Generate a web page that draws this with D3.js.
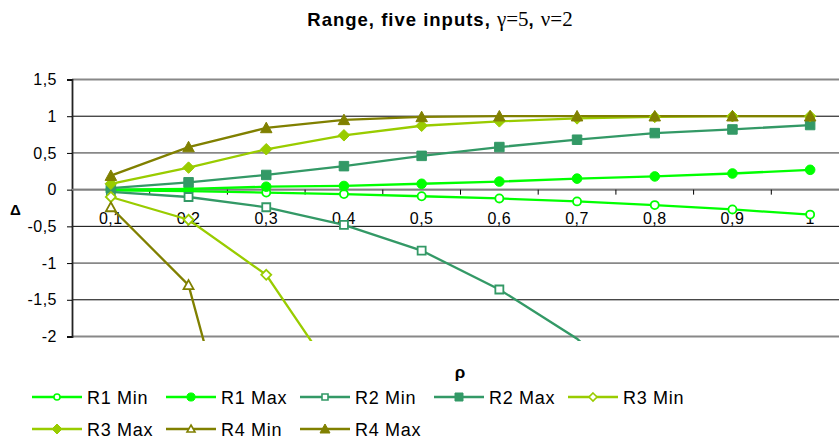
<!DOCTYPE html>
<html>
<head>
<meta charset="utf-8">
<script src="https://cdn.jsdelivr.net/npm/d3@7"></script>
<style>
  body { margin: 0; background: #fff; }
  svg { display: block; font-family: "Liberation Sans", Arial, sans-serif; }
</style>
</head>
<body>
<div class="chart"></div>
<script>
// rho categories
var rhoLabels = ["0,1", "0,2", "0,3", "0,4", "0,5", "0,6", "0,7", "0,8", "0,9", "1"];
var yTicks = [1.5, 1, 0.5, 0, -0.5, -1, -1.5, -2];

// series values (null = not visible / below the axis)
var r1Min = [-0.01, -0.02, -0.04, -0.06, -0.09, -0.12, -0.16, -0.21, -0.27, -0.34];
var r1Max = [0.0, 0.01, 0.04, 0.05, 0.08, 0.11, 0.15, 0.18, 0.22, 0.27];
var r2Min = [-0.03, -0.10, -0.24, -0.48, -0.83, -1.36, -2.03, -3.0, null, null];
var r2Max = [0.02, 0.10, 0.20, 0.32, 0.46, 0.58, 0.68, 0.77, 0.82, 0.88];
var r3Min = [-0.10, -0.41, -1.16, -2.72, null, null, null, null, null, null];
var r3Max = [0.08, 0.30, 0.55, 0.74, 0.87, 0.93, 0.97, 0.99, 1.0, 1.0];
var r4Min = [-0.24, -1.30, -5.2, null, null, null, null, null, null, null];
var r4Max = [0.19, 0.58, 0.84, 0.95, 0.99, 1.0, 1.0, 1.0, 1.0, 1.0];

var series = [
  { name: "R1 Min", values: r1Min, color: "#00ff00", shape: "circle", filled: false },
  { name: "R1 Max", values: r1Max, color: "#00ff00", shape: "circle", filled: true },
  { name: "R2 Min", values: r2Min, color: "#339966", shape: "square", filled: false },
  { name: "R2 Max", values: r2Max, color: "#339966", shape: "square", filled: true },
  { name: "R3 Min", values: r3Min, color: "#99cc00", shape: "diamond", filled: false },
  { name: "R3 Max", values: r3Max, color: "#99cc00", shape: "diamond", filled: true },
  { name: "R4 Min", values: r4Min, color: "#808000", shape: "triangle", filled: false },
  { name: "R4 Max", values: r4Max, color: "#808000", shape: "triangle", filled: true }
];

var width = 839, height = 441;
var plotLeft = 72, plotRight = 849, plotTop = 79.5, plotBottom = 336.5;
// gridlines drawn grey+thick (as in the picture) vs. thin black
var greyGrid = [1.5, 0.5, 0, -1, -2];

var svg = d3.select(".chart").append("svg")
    .attr("width", width)
    .attr("height", height);

var x = d3.scaleBand()
    .domain(rhoLabels)
    .range([plotLeft, plotRight]);

var y = d3.scaleLinear()
    .domain([-2, 1.5])
    .range([plotBottom, plotTop]);

var cx = function (i) { return x(rhoLabels[i]) + x.bandwidth() / 2; };

// title
var title = svg.append("text")
    .attr("x", 440)
    .attr("y", 26)
    .attr("text-anchor", "middle")
    .attr("font-size", 18.5)
    .attr("letter-spacing", 1)
    .attr("font-weight", "bold");
title.append("tspan").text("Range, five inputs, ");
title.append("tspan").attr("font-family", "'Liberation Serif', serif").attr("font-weight", "normal").attr("font-size", 21).attr("letter-spacing", 0).text("\u03b3=5");
title.append("tspan").text(", ");
title.append("tspan").attr("font-family", "'Liberation Serif', serif").attr("font-weight", "normal").attr("font-size", 21).attr("letter-spacing", 0).text("\u03bd=2");

// gridlines
svg.append("g").selectAll("line")
    .data(yTicks)
    .enter()
        .append("line")
        .attr("x1", plotLeft)
        .attr("x2", width)
        .attr("y1", function (d) { return y(d); })
        .attr("y2", function (d) { return y(d); })
        .attr("stroke", function (d) { return greyGrid.indexOf(d) >= 0 ? "#888" : "#000"; })
        .attr("stroke-width", function (d) { return greyGrid.indexOf(d) >= 0 ? 1.8 : 1; });

// y axis
var yAxis = d3.axisLeft(y)
    .tickValues(yTicks)
    .tickSize(5)
    .tickFormat(function (d) { return String(d).replace(".", ","); });

var gy = svg.append("g")
    .attr("transform", "translate(" + plotLeft + ",0)")
    .call(yAxis);
gy.select(".domain").attr("stroke", "#222").attr("stroke-width", 1.8);
gy.selectAll(".tick line").attr("stroke", "#000");
gy.selectAll("text")
    .attr("font-size", 16)
    .attr("letter-spacing", 0.5)
    .attr("font-family", "'Liberation Sans', Arial, sans-serif")
    .attr("x", -15)
    .attr("fill", "#000");

// x axis at zero, ticks between categories
var gx = svg.append("g")
    .attr("transform", "translate(0," + y(0) + ")");
gx.append("line")
    .attr("x1", plotLeft).attr("x2", width)
    .attr("stroke", "#808080").attr("stroke-width", 1.8);
gx.selectAll(".tk")
    .data(rhoLabels.slice(1))
    .enter()
        .append("line")
        .attr("class", "tk")
        .attr("x1", function (d) { return x(d); })
        .attr("x2", function (d) { return x(d); })
        .attr("y1", 0)
        .attr("y2", 5)
        .attr("stroke", "#000");
gx.selectAll("text")
    .data(rhoLabels)
    .enter()
        .append("text")
        .attr("x", function (d) { return x(d) + x.bandwidth() / 2; })
        .attr("y", 34)
        .attr("text-anchor", "middle")
        .attr("font-size", 16)
        .attr("letter-spacing", 0.5)
        .text(function (d) { return d; });

// axis titles
svg.append("text")
    .attr("x", 15.5).attr("y", 215)
    .attr("text-anchor", "middle")
    .attr("font-size", 15).attr("font-weight", "bold")
    .text("\u0394");
svg.append("text")
    .attr("x", 460).attr("y", 378)
    .attr("text-anchor", "middle")
    .attr("font-size", 17).attr("font-weight", "bold")
    .text("\u03c1");

// clip
svg.append("clipPath").attr("id", "plot")
    .append("rect")
    .attr("x", plotLeft).attr("y", plotTop - 6)
    .attr("width", width - plotLeft).attr("height", plotBottom - plotTop + 10.5);

function markerPath(shape, size) {
  var s = size / 2;
  if (shape === "square") return "M" + (-s) + "," + (-s) + "h" + size + "v" + size + "h" + (-size) + "Z";
  if (shape === "diamond") return "M0," + (-s - 1) + "L" + (s + 1) + ",0L0," + (s + 1) + "L" + (-s - 1) + ",0Z";
  if (shape === "triangle") return "M0," + (-s - 1) + "L" + (s + 1) + "," + (s) + "L" + (-s - 1) + "," + (s) + "Z";
  return d3.symbol().type(d3.symbolCircle).size(size * size * 0.8)();
}

var line = d3.line()
    .defined(function (d) { return d != null; })
    .x(function (d, i) { return cx(i); })
    .y(function (d) { return y(d); });

var plot = svg.append("g").attr("clip-path", "url(#plot)");

series.forEach(function (s) {
  plot.append("path")
      .attr("d", line(s.values))
      .attr("fill", "none")
      .attr("stroke", s.color)
      .attr("stroke-width", 2.3);
});

series.forEach(function (s) {
  var pts = s.values.map(function (v, i) { return { v: v, i: i }; })
      .filter(function (d) { return d.v != null && d.v >= -2; });
  plot.selectAll(null)
      .data(pts)
      .enter()
          .append("path")
          .attr("transform", function (d) { return "translate(" + cx(d.i) + "," + y(d.v) + ")"; })
          .attr("d", markerPath(s.shape, s.filled ? 9.5 : 8))
          .attr("fill", s.filled ? s.color : "#fff")
          .attr("stroke", s.color)
          .attr("stroke-width", s.filled ? 1 : 1.8);
});

// legend
var legendPos = [
  { x: 32, y: 397 }, { x: 166, y: 397 }, { x: 300, y: 397 }, { x: 434, y: 397 }, { x: 568, y: 397 },
  { x: 32, y: 429 }, { x: 166, y: 429 }, { x: 300, y: 429 }
];
var legend = svg.append("g").selectAll("g")
    .data(series)
    .enter()
        .append("g")
        .attr("transform", function (d, i) { return "translate(" + legendPos[i].x + "," + legendPos[i].y + ")"; });
legend.append("line")
    .attr("x1", 0).attr("x2", 50)
    .attr("stroke", function (d) { return d.color; })
    .attr("stroke-width", 2.3);
legend.append("path")
    .attr("transform", "translate(25,0)")
    .attr("d", function (d) { return markerPath(d.shape, d.filled ? 8 : 6); })
    .attr("fill", function (d) { return d.filled ? d.color : "#fff"; })
    .attr("stroke", function (d) { return d.color; })
    .attr("stroke-width", function (d) { return d.filled ? 1 : 1.6; });
legend.append("text")
    .attr("x", 55)
    .attr("y", 6.5)
    .attr("font-size", 18)
    .attr("letter-spacing", 0.7)
    .text(function (d) { return d.name; });
</script>
</body>
</html>
